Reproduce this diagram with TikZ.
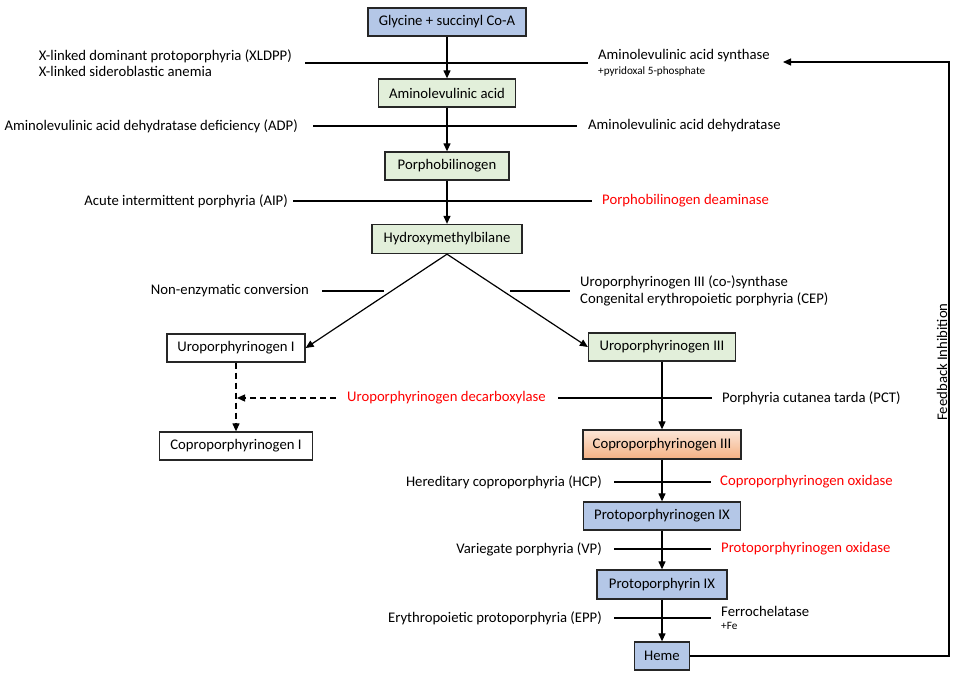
\documentclass[tikz,border=0pt]{standalone}
\usepackage{fontspec}
\setmainfont{Carlito}
\usetikzlibrary{arrows.meta}
\definecolor{bblue}{RGB}{180,199,231}
\definecolor{bgreen}{RGB}{226,239,218}
\definecolor{corange}{RGB}{244,177,131}
\definecolor{corangel}{RGB}{252,230,216}
\definecolor{enz}{RGB}{255,0,0}
\definecolor{edge}{RGB}{38,38,38}
\begin{document}
\begin{tikzpicture}[x=1pt,y=-1pt,
  every node/.style={font=\fontsize{14.7}{16.5}\selectfont, inner sep=0pt},
  pbox/.style={draw=edge, line width=1.3pt, minimum height=28pt},
  conn/.style={line width=1.2pt, draw=black},
  arr/.style={conn, -{Triangle[length=8pt,width=7pt]}},
  small/.style={font=\fontsize{11.2}{12}\selectfont},
  redt/.style={text=enz}]
\useasboundingbox (0,0) rectangle (953,675);

% boxes
\node[pbox, fill=bblue, minimum width=158pt] (gly) at (447,22) {Glycine + succinyl Co-A};
\node[pbox, fill=bgreen, minimum width=137pt] (ala) at (447,93) {Aminolevulinic acid};
\node[pbox, fill=bgreen, minimum width=124pt] (pbg) at (447,166) {Porphobilinogen};
\node[pbox, fill=bgreen, minimum width=150pt, minimum height=29pt] (hmb) at (447,239) {Hydroxymethylbilane};
\node[pbox, fill=white, minimum width=138pt] (uro1) at (236,348) {Uroporphyrinogen I};
\node[pbox, fill=bgreen, minimum width=147pt] (uro3) at (662,347) {Uroporphyrinogen III};
\node[pbox, fill=white, minimum width=153pt] (copro1) at (236,446) {Coproporphyrinogen I};
\node[pbox, top color=corangel, bottom color=corange, minimum width=158pt, minimum height=29pt] (copro3) at (662,444.5) {Coproporphyrinogen III};
\node[pbox, fill=bblue, minimum width=157pt] (protogen) at (662,516) {Protoporphyrinogen IX};
\node[pbox, fill=bblue, minimum width=130pt, minimum height=29pt] (proto) at (662,584.5) {Protoporphyrin IX};
\node[pbox, fill=bblue, minimum width=55pt] (heme) at (662,656) {Heme};

% main arrows
\draw[arr] (gly) -- (ala);
\draw[arr] (ala) -- (pbg);
\draw[arr] (pbg) -- (hmb);
\draw[arr] (hmb.south) -- (uro1.east);
\draw[arr] (hmb.south) -- (uro3.west);
\draw[arr] (uro3) -- (copro3);
\draw[arr] (copro3) -- (protogen);
\draw[arr] (protogen) -- (proto);
\draw[arr] (proto) -- (heme);
\draw[arr, dash pattern=on 6pt off 4pt] (uro1) -- (copro1);

% inhibition / enzyme lines
\coordinate (l1a) at (305,63);  \coordinate (l1b) at (588,63);
\coordinate (l2a) at (313,126); \coordinate (l2b) at (577,126);
\coordinate (l3a) at (293,201); \coordinate (l3b) at (592,201);
\coordinate (l4a) at (322,291); \coordinate (l4b) at (384,291);
\coordinate (l5a) at (510,291); \coordinate (l5b) at (570,291);
\coordinate (l6a) at (558,398); \coordinate (l6b) at (712,398);
\coordinate (l7a) at (614,482); \coordinate (l7b) at (711,482);
\coordinate (l8a) at (614,549); \coordinate (l8b) at (711,549);
\coordinate (l9a) at (614,618); \coordinate (l9b) at (711,618);
\foreach \l in {1,...,9} {\draw[conn] (l\l a) -- (l\l b);}

\coordinate (dstart) at (336,398);
\coordinate (dtip) at (237,398);
\draw[arr, dash pattern=on 6pt off 4pt] (dstart) -- (dtip);

% texts
\node[anchor=east, align=left] (xl) at (292,63) {X-linked dominant protoporphyria (XLDPP)\\X-linked sideroblastic anemia};
\node[anchor=west] (alas) at (598,56) {Aminolevulinic acid synthase};
\node[anchor=west, small] (pyr) at (598,72) {+pyridoxal 5-phosphate};
\node[anchor=east] (adp) at (298,126) {Aminolevulinic acid dehydratase deficiency (ADP)};
\node[anchor=west] (ald) at (588,126) {Aminolevulinic acid dehydratase};
\node[anchor=east] (aip) at (288,201) {Acute intermittent porphyria (AIP)};
\node[anchor=west, redt] (pbgd) at (602,201) {Porphobilinogen deaminase};
\node[anchor=east] (nonenz) at (309,291) {Non-enzymatic conversion};
\node[anchor=west, align=left] (urosyn) at (580,291) {Uroporphyrinogen III (co-)synthase\\Congenital erythropoietic porphyria (CEP)};
\node[anchor=west, redt] (urod) at (347,398) {Uroporphyrinogen decarboxylase};
\node[anchor=west] (pct) at (722,398) {Porphyria cutanea tarda (PCT)};
\node[anchor=east] (hcp) at (602,482) {Hereditary coproporphyria (HCP)};
\node[anchor=west, redt] (cpo) at (720,482) {Coproporphyrinogen oxidase};
\node[anchor=east] (vp) at (602,549) {Variegate porphyria (VP)};
\node[anchor=west, redt] (ppo) at (721,549) {Protoporphyrinogen oxidase};
\node[anchor=east] (epp) at (602,618) {Erythropoietic protoporphyria (EPP)};
\node[anchor=west] (fc) at (721,611) {Ferrochelatase};
\node[anchor=west, small] (fe) at (721,626) {+Fe};
\node[rotate=90] (fb) at (942,362) {Feedback Inhibition};

% feedback
\coordinate (fbt) at (949,62);
\coordinate (fbtip) at (783,62);
\draw[arr] (heme.east) -| (fbt) -- (fbtip);
\end{tikzpicture}
\end{document}
